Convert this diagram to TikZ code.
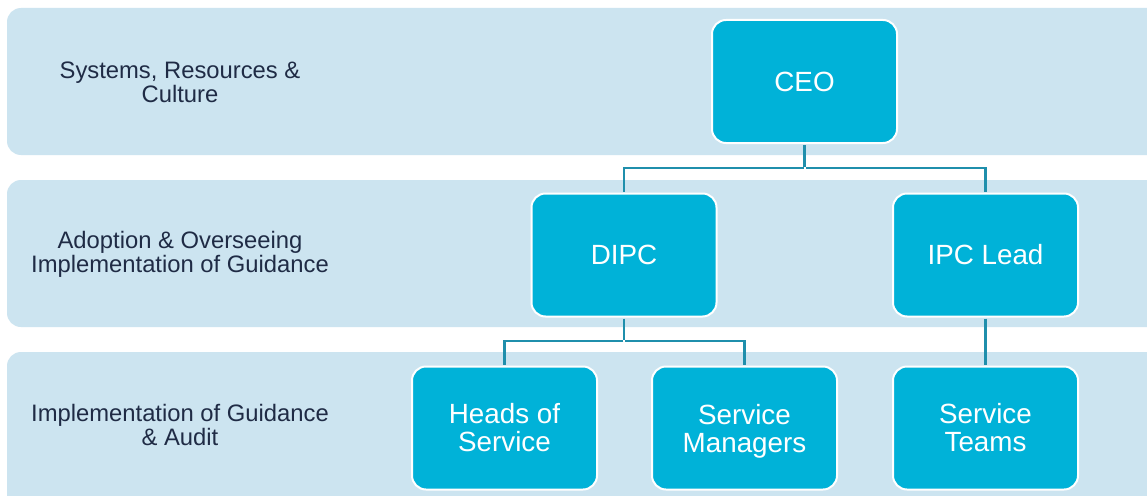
\documentclass[tikz,border=0pt]{standalone}
\usepackage{fontspec}
\setmainfont{Liberation Sans}
\definecolor{bandfill}{HTML}{CCE4F0}
\definecolor{boxfill}{HTML}{00B2D8}
\definecolor{linecol}{HTML}{1F8FAC}
\definecolor{bandtext}{HTML}{1F2B45}
\tikzset{
  band/.style={fill=bandfill, rounded corners=14pt, draw=none},
  bandlabel/.style={text=bandtext, align=center, font=\fontsize{23.8}{24}\selectfont, inner sep=0pt},
  orgbox/.style={rectangle, rounded corners=14pt, fill=boxfill, draw=white, line width=2pt,
    minimum width=185pt, minimum height=123pt, text=white, align=center,
    font=\fontsize{27.8}{28}\selectfont, inner sep=0pt},
  conn/.style={draw=linecol, line width=2.5pt}
}
\newcommand{\nodesc}[1]{\raisebox{0pt}[\height][0pt]{#1}}
\begin{document}
\begin{tikzpicture}[x=1pt,y=-1pt]
\useasboundingbox (0,0) rectangle (1147,495);
\fill[white] (0,0) rectangle (1147,495);
\path[band] (7,8) rectangle (1170,155);
\path[band] (7,180) rectangle (1170,327);
\path[band] (7,352) rectangle (1170,520);
\node[bandlabel] (l1) at (180,82) {Systems, Resources \&\\Culture};
\node[bandlabel] (l2) at (180,254) {Adoption \& Overseeing\\Implementation of Guidance};
\node[bandlabel] (l3) at (180,425) {Implementation of Guidance\\\& Audit};
\coordinate (j1) at (804.5,168);
\coordinate (j2) at (624,341);
\node[orgbox] (ceo) at (804.5,81.5) {CEO};
\node[orgbox] (dipc) at (624,255) {DIPC};
\node[orgbox] (ipc) at (985.5,255) {IPC Lead};
\node[orgbox] (hos) at (504.5,428) {Heads of\\Service};
\node[orgbox] (sm) at (744.5,428) {Service\\\nodesc{Managers}};
\node[orgbox] (st) at (985.5,428) {Service\\Teams};
\begin{scope}[shorten <=1pt, shorten >=1pt]
\draw[conn] (ceo.south) -- (j1);
\draw[conn] (j1) -| (dipc.north);
\draw[conn] (j1) -| (ipc.north);
\draw[conn] (dipc.south) -- (j2);
\draw[conn] (j2) -| (hos.north);
\draw[conn] (j2) -| (sm.north);
\draw[conn] (ipc.south) -- (st.north);
\end{scope}
\end{tikzpicture}
\end{document}
